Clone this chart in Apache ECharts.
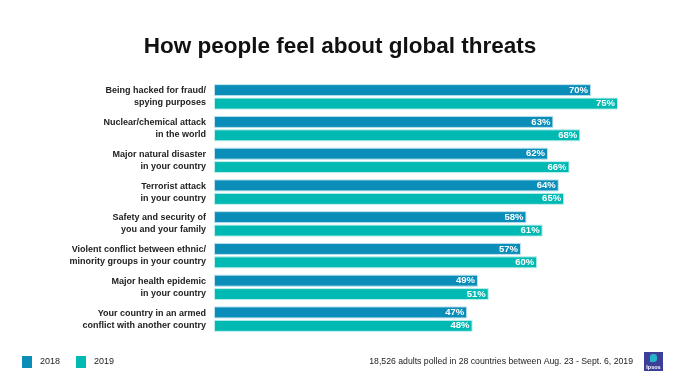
<!DOCTYPE html>
<html><head><meta charset="utf-8">
<script src="https://cdn.jsdelivr.net/npm/echarts@6/dist/echarts.min.js"></script>
<style>html,body{margin:0;padding:0;background:#fff}#c{width:680px;height:382px}</style>
</head><body><div id="c"></div>
<script>
const categories = [
  "Being hacked for fraud/\nspying purposes",
  "Nuclear/chemical attack\nin the world",
  "Major natural disaster\nin your country",
  "Terrorist attack\nin your country",
  "Safety and security of\nyou and your family",
  "Violent conflict between ethnic/\nminority groups in your country",
  "Major health epidemic\nin your country",
  "Your country in an armed\nconflict with another country"
];
const values2018 = [70, 63, 62, 64, 58, 57, 49, 47];
const values2019 = [75, 68, 66, 65, 61, 60, 51, 48];
const seriesNames = ["2018", "2019"];
const footnote = "18,526 adults polled in 28 countries between Aug. 23 - Sept. 6, 2019";
const titleText = "How people feel about global threats";

const chart = echarts.init(document.getElementById('c'));
const font = '"Liberation Sans", Arial, sans-serif';
const lbl = {show:true, position:'insideRight', formatter:'{c}%', color:'#fff', fontWeight:'bold', fontSize:9.5, fontFamily:font, distance:3, textBorderWidth:0};
chart.setOption({
  animation:false,
  title:{text:titleText, left:'center', top:30, textStyle:{fontFamily:font, fontWeight:'bold', fontSize:22.5, color:'#111'}},
  legend:{data:seriesNames, left:17, top:351, icon:'rect', itemWidth:10, itemHeight:12, itemGap:16,
    itemStyle:{borderWidth:0},
    textStyle:{fontFamily:font, fontSize:9, color:'#222', padding:[2,0,0,3]}},
  grid:{left:214, right:62, top:81, height:254},
  xAxis:{type:'value', min:0, max:75, show:false},
  yAxis:{type:'category', data:categories, inverse:true, axisLine:{show:false}, axisTick:{show:false},
    axisLabel:{fontFamily:font, fontWeight:'bold', fontSize:9, color:'#222', lineHeight:12, align:'right', margin:8, padding:[6,0,0,0]}},
  series:[
    {name:seriesNames[0], type:'bar', data:values2018, barWidth:12, barGap:'12%',
     itemStyle:{color:'#0a8db8', borderColor:'#bfe3ee', borderWidth:1}, label:lbl},
    {name:seriesNames[1], type:'bar', data:values2019, barWidth:12,
     itemStyle:{color:'#00b9b2', borderColor:'#bff0ec', borderWidth:1}, label:lbl}
  ],
  graphic:[
    {type:'text', right:47, top:357, style:{text:footnote, font:'8.7px '+font, fill:'#222'}},
    {type:'group', left:644, top:352, children:[
      {type:'rect', shape:{x:0,y:0,width:19,height:19}, style:{fill:'#3b3f97'}},
      {type:'rect', shape:{x:6,y:2,width:7,height:8, r:[3,3,3,0]}, style:{fill:'#27b3c8'}},
      {type:'text', style:{x:9.5,y:15,text:'Ipsos', font:'bold 5.5px '+font, fill:'#fff', textAlign:'center', textVerticalAlign:'middle'}}
    ]}
  ]
});
</script></body></html>
